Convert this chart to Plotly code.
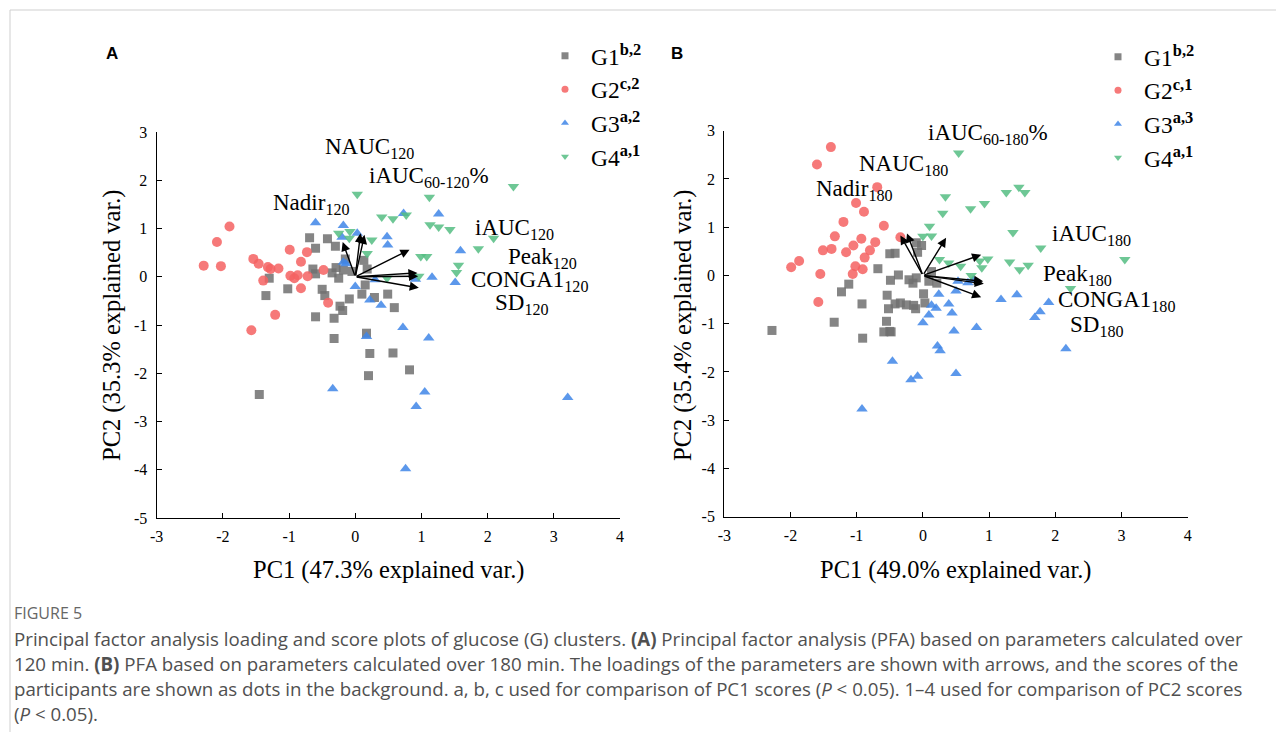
import plotly.graph_objects as go

# The page keeps its 8px body margin: the figure (1268x724) sits at (8, 8).
# With 20px figure margins the paper area spans page pixels x 28..1256, y 28..712.
FW, FH = 1268, 724
MG = 20
PX0, PY0 = 8 + MG, 8 + MG
PW, PH = FW - 2 * MG, FH - 2 * MG


def px(v):
    return (v - PX0) / PW


def py(v):
    return 1 - (v - PY0) / PH


# ---------------- Panel A (120 min) scores ----------------
a_g1_x = [-0.69, -0.42, -0.60, -0.30, -0.15, 0.13, -0.64, -0.60, -0.35, -0.29, -0.25, -0.18, -0.05, 0.18,
          -1.30, -1.35, -1.02, -0.50, -0.46, 0.15, 0.10, -0.09, 0.29, 0.49, 0.59, -0.23, -0.19, -0.60,
          -0.32, -0.32, 0.17, 0.22, 0.57, 0.20, 0.82, -1.45]
a_g1_y = [0.81, 0.79, 0.59, 0.63, 0.37, 0.34, 0.16, 0.06, 0.08, 0.19, -0.03, 0.14, 0.11, 0.16,
          -0.03, -0.39, -0.25, -0.26, -0.39, -0.17, -0.36, -0.46, -0.43, -0.36, -0.64, -0.61, -0.70, -0.83,
          -0.86, -1.28, -1.17, -1.59, -1.58, -2.05, -1.93, -2.44]
a_g2_x = [-1.90, -2.09, -2.29, -2.03, -1.54, -1.46, -1.32, -1.28, -1.16, -1.39, -0.99, -0.73, -0.82,
          -0.98, -0.92, -0.87, -0.72, -0.82, -0.48, -0.41, -1.21, -1.57]
a_g2_y = [1.04, 0.72, 0.23, 0.22, 0.37, 0.27, 0.20, 0.16, 0.17, -0.08, 0.56, 0.51, 0.31,
          0.02, -0.03, 0.03, 0.01, -0.24, 0.14, -0.54, -0.79, -1.11]
a_g3_x = [-0.60, -0.18, 0.03, -0.20, 0.48, 0.49, 0.73, 1.26, -0.18, -0.14, 0.00, 0.22, 0.39, 0.72,
          1.11, 0.17, -0.34, 1.05, 0.92, 3.21, 0.76, 1.59, 1.16, 1.51, 0.91, 0.30]
a_g3_y = [1.12, 1.06, 0.90, 0.82, 0.83, 0.66, 1.31, 1.30, 0.30, 0.27, -0.20, -0.48, -0.59, -1.05,
          -1.27, -1.24, -2.32, -2.39, -2.69, -2.50, -3.98, 0.54, -0.01, -0.12, -0.05, -0.06]
a_g4_x = [0.03, 1.12, 2.39, 0.40, 0.57, 0.77, 1.13, 1.26, 1.43, -0.25, -0.08, -0.09, 0.25, 0.18,
          2.09, 1.86, 0.99, 1.08, 1.56, 1.53, 0.96, 0.48]
a_g4_y = [1.71, 1.65, 1.87, 1.24, 1.20, 1.28, 1.08, 1.03, 0.98, 0.90, 0.94, 0.80, 0.76, 0.48,
          0.80, 0.58, 0.42, 0.42, 0.24, 0.09, 0.01, -0.03]

# ---------------- Panel B (180 min) scores ----------------
b_g1_x = [-0.10, -0.02, -0.50, -0.42, -0.08, -0.68, -0.37, -0.49, -0.21, -0.10, -0.15, 0.09, 0.21,
          -1.12, -1.23, 0.01, -0.54, -0.92, -0.42, -0.34, -0.25, -0.14, -0.11, 0.03, -0.52, -1.34,
          -0.55, -2.28, -0.59, -0.50, -0.48, -0.91, 0.13]
b_g1_y = [0.68, 0.62, 0.45, 0.46, 0.48, 0.14, 0.01, -0.10, -0.09, -0.05, -0.16, -0.12, -0.16,
          -0.18, -0.34, -0.38, -0.41, -0.59, -0.59, -0.57, -0.61, -0.62, -0.69, -0.57, -0.69, -0.97,
          -0.95, -1.14, -1.17, -1.16, -1.17, -1.30, 0.08]
b_g2_x = [-1.39, -1.60, -0.69, -1.01, -0.89, -1.20, -0.59, -1.33, -0.93, -0.34, -0.72, -1.05,
          -1.51, -1.38, -1.16, -0.80, -0.88, -1.87, -1.99, -1.02, -0.91, -1.06, -1.55, -1.58]
b_g2_y = [2.66, 2.30, 1.83, 1.50, 1.32, 1.11, 1.03, 0.81, 0.76, 0.79, 0.69, 0.62,
          0.52, 0.55, 0.48, 0.52, 0.37, 0.30, 0.17, 0.19, 0.13, 0.03, 0.03, -0.55]
b_g3_x = [0.13, 0.24, 0.20, 0.39, 0.44, 0.50, 0.53, 0.68, 0.76, 0.09, 0.00, 0.47, 0.81, 0.22,
          0.26, -0.46, 0.50, -0.08, -0.18, -0.92, 1.18, 1.42, 1.90, 1.77, 1.69, 2.16]
b_g3_y = [-0.62, -0.39, -0.68, -0.59, -0.78, -0.32, -0.12, -0.15, -0.10, -0.82, -0.98, -1.15, -1.08, -1.46,
          -1.56, -1.78, -2.03, -2.09, -2.16, -2.77, -0.50, -0.40, -0.56, -0.75, -0.87, -1.52]
b_g4_x = [0.54, 0.34, 0.30, 0.72, 0.93, 1.26, 1.45, 1.54, 0.10, 0.00, 0.13, 0.25, 0.39, 0.57,
          0.73, 0.86, 0.98, 0.89, 1.31, 1.46, 1.59, 1.36, 1.78, 3.05, 2.23]
b_g4_y = [2.54, 1.63, 1.29, 1.38, 1.49, 1.72, 1.83, 1.72, 1.02, 0.81, 0.82, 0.33, 0.26, 0.19,
          0.00, 0.30, 0.34, 0.16, 0.28, 0.12, 0.21, 0.89, 0.57, 0.33, -0.27]

# ---------------- Loadings ----------------
a_load_names = ["Nadir<sub>120</sub>", "NAUC<sub>120</sub>", "iAUC<sub>60-120</sub>%", "iAUC<sub>120</sub>",
                "Peak<sub>120</sub>", "CONGA1<sub>120</sub>", "SD<sub>120</sub>"]
a_load_x = [-0.19, 0.08, 0.14, 0.82, 0.94, 0.95, 0.96]
a_load_y = [0.72, 0.90, 0.87, 0.56, 0.08, 0.01, -0.23]

b_load_names = ["Nadir<sub>180</sub>", "NAUC<sub>180</sub>", "iAUC<sub>60-180</sub>%", "iAUC<sub>180</sub>",
                "Peak<sub>180</sub>", "CONGA1<sub>180</sub>", "SD<sub>180</sub>"]
b_load_x = [-0.34, -0.24, 0.35, 0.88, 0.91, 0.92, 0.88]
b_load_y = [0.83, 0.87, 0.78, 0.43, -0.12, -0.17, -0.45]

# label placement (left edge x, middle y), in axis units
a_label_pos = [(-1.27, 1.51), (-0.48, 2.67), (0.18, 2.07), (1.78, 0.99), (2.27, 0.39), (1.72, -0.08), (2.08, -0.56)]
b_label_pos = [(-1.64, 1.78), (-1.00, 2.28), (0.04, 2.93), (1.92, 0.83), (1.78, 0.00), (2.01, -0.52), (2.19, -1.04)]

a_legend_names = ["G1<sup><b>b,2</b></sup>", "G2<sup><b>c,2</b></sup>", "G3<sup><b>a,2</b></sup>", "G4<sup><b>a,1</b></sup>"]
b_legend_names = ["G1<sup><b>b,2</b></sup>", "G2<sup><b>c,1</b></sup>", "G3<sup><b>a,3</b></sup>", "G4<sup><b>a,1</b></sup>"]

tick_x_vals = [-3, -2, -1, 0, 1, 2, 3, 4]
tick_x_text = ["-3", "-2", "-1", "0", "1", "2", "3", "4"]
tick_y_vals = [-5, -4, -3, -2, -1, 0, 1, 2, 3]
tick_y_text = ["-5", "-4", "-3", "-2", "-1", "0", "1", "2", "3"]

x_titles = ["PC1 (47.3% explained var.)", "PC1 (49.0% explained var.)"]
y_titles = ["PC2 (35.3% explained var.)", "PC2 (35.4% explained var.)"]

# ---------------- styles ----------------
SERIF = "Liberation Serif"
colors = ["#707070", "#f46262", "#3f86e8", "#55bd82"]
symbols = ["square", "circle", "triangle-up", "triangle-down"]
sizes = [9, 10, 10, 10]

fig = go.Figure()

panels = [
    ("x", "y", "legend", [(a_g1_x, a_g1_y), (a_g2_x, a_g2_y), (a_g3_x, a_g3_y), (a_g4_x, a_g4_y)], a_legend_names),
    ("x2", "y2", "legend2", [(b_g1_x, b_g1_y), (b_g2_x, b_g2_y), (b_g3_x, b_g3_y), (b_g4_x, b_g4_y)], b_legend_names),
]
for xa, ya, leg, groups, names in panels:
    for i, (gx, gy) in enumerate(groups):
        fig.add_trace(go.Scatter(
            x=gx, y=gy, mode="markers", xaxis=xa, yaxis=ya, showlegend=False,
            marker=dict(symbol=symbols[i], size=sizes[i], color=colors[i], opacity=0.85, line=dict(width=0)),
            hoverinfo="skip"))
    for i, nm in enumerate(names):
        fig.add_trace(go.Scatter(
            x=[None], y=[None], mode="markers", xaxis=xa, yaxis=ya, name=nm, legend=leg,
            marker=dict(symbol=symbols[i], size=7, color=colors[i], opacity=0.85)))

annotations = []
for xr, yr, lx, ly, names, lpos in [("x", "y", a_load_x, a_load_y, a_load_names, a_label_pos),
                                     ("x2", "y2", b_load_x, b_load_y, b_load_names, b_label_pos)]:
    for tx, ty in zip(lx, ly):
        annotations.append(dict(x=tx, y=ty, ax=0, ay=0, xref=xr, yref=yr, axref=xr, ayref=yr,
                                text="", showarrow=True, arrowhead=2, arrowsize=1.3, arrowwidth=1.4,
                                arrowcolor="black", standoff=0, startstandoff=0))
    for nm, (lxp, lyp) in zip(names, lpos):
        annotations.append(dict(x=lxp, y=lyp, xref=xr, yref=yr, text=nm, showarrow=False,
                                xanchor="left", yanchor="middle",
                                font=dict(family=SERIF, size=23, color="black")))

# axis titles
for cx, t in zip([388.5, 956], x_titles):
    annotations.append(dict(x=px(cx), y=py(570), xref="paper", yref="paper", text=t, showarrow=False,
                            xanchor="center", yanchor="middle", font=dict(family=SERIF, size=24.5, color="black")))
for cx, t in zip([112, 683], y_titles):
    annotations.append(dict(x=px(cx), y=py(325), xref="paper", yref="paper", text=t, showarrow=False,
                            textangle=-90, xanchor="center", yanchor="middle",
                            font=dict(family=SERIF, size=24.5, color="black")))

# panel letters
for cx, t in zip([112, 677], ["A", "B"]):
    annotations.append(dict(x=px(cx), y=py(54), xref="paper", yref="paper", text="<b>%s</b>" % t,
                            showarrow=False, xanchor="center", yanchor="middle",
                            font=dict(family="Liberation Sans", size=17, color="black")))

# caption
CAP = "Open Sans"
annotations.append(dict(x=px(12), y=py(613), xref="paper", yref="paper", text="FIGURE 5", showarrow=False,
                        xanchor="left", yanchor="middle", font=dict(family=CAP, size=16, color="#666666")))
caption_lines = [
    "Principal factor analysis loading and score plots of glucose (G) clusters. <b>(A)</b> Principal factor analysis (PFA) based on parameters calculated over",
    "120 min. <b>(B)</b> PFA based on parameters calculated over 180 min. The loadings of the parameters are shown with arrows, and the scores of the",
    "participants are shown as dots in the background. a, b, c used for comparison of PC1 scores (<i>P</i> &lt; 0.05). 1\u20134 used for comparison of PC2 scores",
    "(<i>P</i> &lt; 0.05).",
]
for k, line in enumerate(caption_lines):
    annotations.append(dict(x=px(12), y=py(638 + 25 * k), xref="paper", yref="paper", text=line,
                            showarrow=False, xanchor="left", yanchor="middle",
                            font=dict(family=CAP, size=18.7, color="#505050")))

axis_common = dict(showline=True, linecolor="black", linewidth=1.3, ticks="inside", ticklen=5, tickwidth=1.3,
                   tickcolor="black", showgrid=False, zeroline=False, mirror=False,
                   tickfont=dict(family=SERIF, size=16, color="black"))

fig.update_layout(
    width=FW, height=FH, margin=dict(l=MG, r=MG, t=MG, b=MG, autoexpand=False),
    paper_bgcolor="white", plot_bgcolor="white",
    xaxis=dict(domain=[px(156.7), px(620)], range=[-3, 4], anchor="y", tickvals=tick_x_vals,
               ticktext=tick_x_text, ticklabelstandoff=4, **axis_common),
    yaxis=dict(domain=[py(518), py(132)], range=[-5, 3], anchor="x", tickvals=tick_y_vals,
               ticktext=tick_y_text, ticklabelstandoff=5, **axis_common),
    xaxis2=dict(domain=[px(724.3), px(1187.7)], range=[-3, 4], anchor="y2", tickvals=tick_x_vals,
                ticktext=tick_x_text, ticklabelstandoff=4, **axis_common),
    yaxis2=dict(domain=[py(516.7), py(130.7)], range=[-5, 3], anchor="x2", tickvals=tick_y_vals,
                ticktext=tick_y_text, ticklabelstandoff=5, **axis_common),
    legend=dict(x=px(539), y=py(34), xanchor="left", yanchor="top", bgcolor="rgba(0,0,0,0)",
                font=dict(family=SERIF, size=23.5, color="black"), itemsizing="trace", itemwidth=42),
    legend2=dict(x=px(1092), y=py(35), xanchor="left", yanchor="top", bgcolor="rgba(0,0,0,0)",
                 font=dict(family=SERIF, size=23.5, color="black"), itemsizing="trace", itemwidth=42),
    annotations=annotations,
    shapes=[
        dict(type="line", xref="paper", yref="paper", x0=px(10), x1=px(1290), y0=py(10), y1=py(10),
             line=dict(color="#cfcfcf", width=1)),
        dict(type="line", xref="paper", yref="paper", x0=px(10), x1=px(10), y0=py(745), y1=py(10),
             line=dict(color="#cfcfcf", width=1)),
    ],
)

fig.write_html("out.html", config={"displayModeBar": False})
